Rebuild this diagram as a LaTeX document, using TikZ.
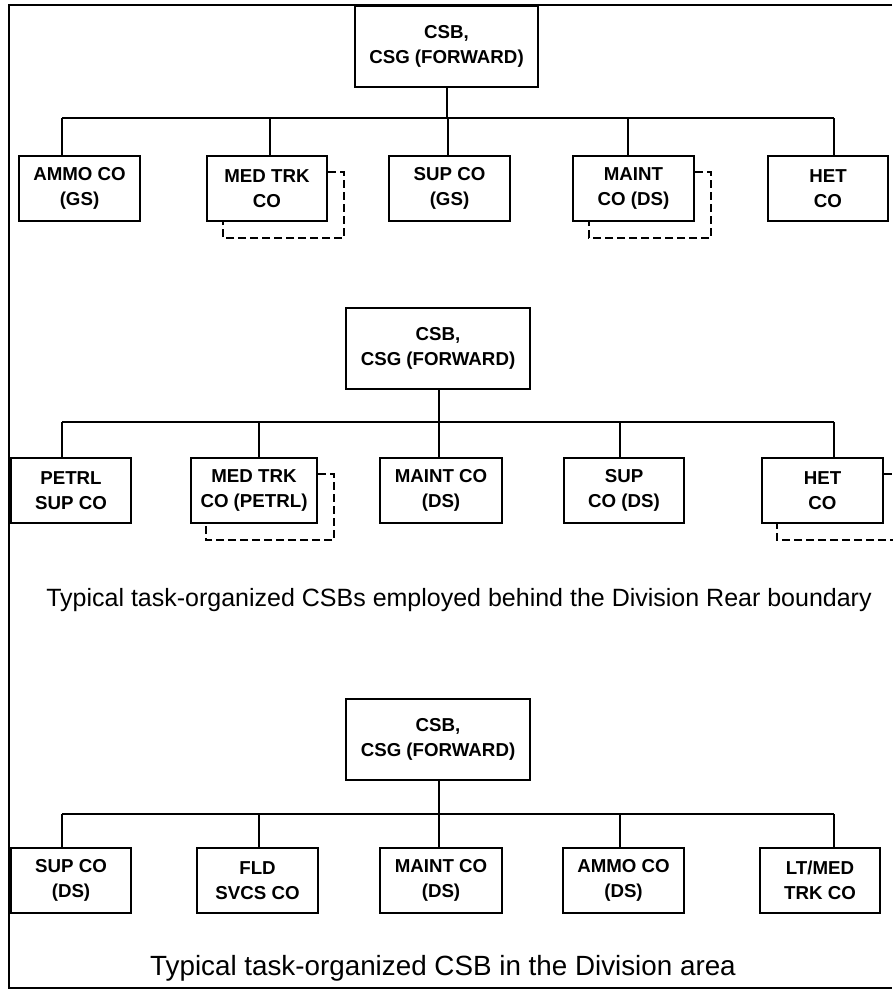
\documentclass[tikz,border=0pt]{standalone}
\usepackage{fontspec}
\setmainfont{Liberation Sans}
\begin{document}
\begin{tikzpicture}[x=1pt,y=-1pt,
  unit/.style={draw,line width=2pt,inner sep=0pt,align=center,
    font=\fontsize{18.7}{25}\selectfont\bfseries,minimum height=65pt},
  hq/.style={unit,minimum width=183pt,minimum height=81pt},
  link/.style={line width=2pt},
  attach/.style={line width=2pt,dash pattern=on 8pt off 4pt},
  caption/.style={font=\fontsize{25}{30}\selectfont,inner sep=0pt},
  bigcaption/.style={font=\fontsize{27.8}{32}\selectfont,inner sep=0pt}]
\useasboundingbox (0,0) rectangle (892,998);
% outer frame (open on the right)
\draw[line width=2pt] (892,5) -- (9,5) -- (9,988) -- (892,988);

% ---------- first battalion ----------
\node[hq] (h1) at (446.5,46.5) {CSB,\\CSG (FORWARD)};
\node[unit,minimum width=121pt] (a1) at (79.5,188.5) {AMMO CO\\(GS)};
\node[unit,minimum width=120pt] (a2) at (267,188.5) {MED TRK\\CO};
\node[unit,minimum width=121pt] (a3) at (449.5,188.5) {SUP CO\\(GS)};
\node[unit,minimum width=121pt] (a4) at (633.5,188.5) {MAINT\\CO (DS)};
\node[unit,minimum width=120pt] (a5) at (828,188.5) {HET\\CO};
\coordinate (j1a) at (62,118);
\coordinate (j1b) at (270,118);
\coordinate (j1c) at (448,118);
\coordinate (j1d) at (628,118);
\coordinate (j1e) at (834,118);
\draw[link] (j1a) -- (j1e);
\draw[link] (h1.south) -- (h1.south |- j1a);
\foreach \j/\n in {j1a/a1,j1b/a2,j1c/a3,j1d/a4,j1e/a5}
  \draw[link] (\j) -- (\j |- \n.north);
\foreach \n in {a2,a4}
  \draw[attach] ([yshift=-17pt]\n.north east) -| ([xshift=16pt,yshift=-16pt]\n.south east)
    -| ([xshift=17pt]\n.south west);

% ---------- second battalion ----------
\node[hq,minimum width=184pt] (h2) at (438,348.5) {CSB,\\CSG (FORWARD)};
\node[unit,minimum width=120pt] (b1) at (71,490.5) {PETRL\\SUP CO};
\node[unit,minimum width=126pt] (b2) at (254,490.5) {MED TRK\\CO (PETRL)};
\node[unit,minimum width=122pt] (b3) at (441,490.5) {MAINT CO\\(DS)};
\node[unit,minimum width=120pt] (b4) at (624,490.5) {SUP\\CO (DS)};
\node[unit,minimum width=121pt] (b5) at (822.5,490.5) {HET\\CO};
\coordinate (j2a) at (62,422);
\coordinate (j2b) at (259,422);
\coordinate (j2c) at (439,422);
\coordinate (j2d) at (620,422);
\coordinate (j2e) at (834,422);
\draw[link] (j2a) -- (j2e);
\draw[link] (h2.south -| j2c) -- (j2c);
\foreach \j/\n in {j2a/b1,j2b/b2,j2c/b3,j2d/b4,j2e/b5}
  \draw[link] (\j) -- (\j |- \n.north);
\foreach \n in {b2,b5}
  \draw[attach] ([yshift=-17pt]\n.north east) -| ([xshift=16pt,yshift=-16pt]\n.south east)
    -| ([xshift=16pt]\n.south west);
\node[caption] (c1) at (459,600) {Typical task-organized CSBs employed behind the Division Rear boundary};

% ---------- third battalion ----------
\node[hq,minimum width=184pt] (h3) at (438,739) {CSB,\\CSG (FORWARD)};
\node[unit,minimum width=120pt] (d1) at (71,880.5) {SUP CO\\(DS)};
\node[unit,minimum width=121pt] (d2) at (257.5,880.5) {FLD\\SVCS CO};
\node[unit,minimum width=122pt] (d3) at (441,880.5) {MAINT CO\\(DS)};
\node[unit,minimum width=121pt] (d4) at (623.5,880.5) {AMMO CO\\(DS)};
\node[unit,minimum width=120pt] (d5) at (820,880.5) {LT/MED\\TRK CO};
\coordinate (j3a) at (62,814);
\coordinate (j3b) at (259,814);
\coordinate (j3c) at (439,814);
\coordinate (j3d) at (620,814);
\coordinate (j3e) at (834,814);
\draw[link] (j3a) -- (j3e);
\draw[link] (h3.south -| j3c) -- (j3c);
\foreach \j/\n in {j3a/d1,j3b/d2,j3c/d3,j3d/d4,j3e/d5}
  \draw[link] (\j) -- (\j |- \n.north);
\node[bigcaption] (c2) at (443,968) {Typical task-organized CSB in the Division area};
\end{tikzpicture}
\end{document}
